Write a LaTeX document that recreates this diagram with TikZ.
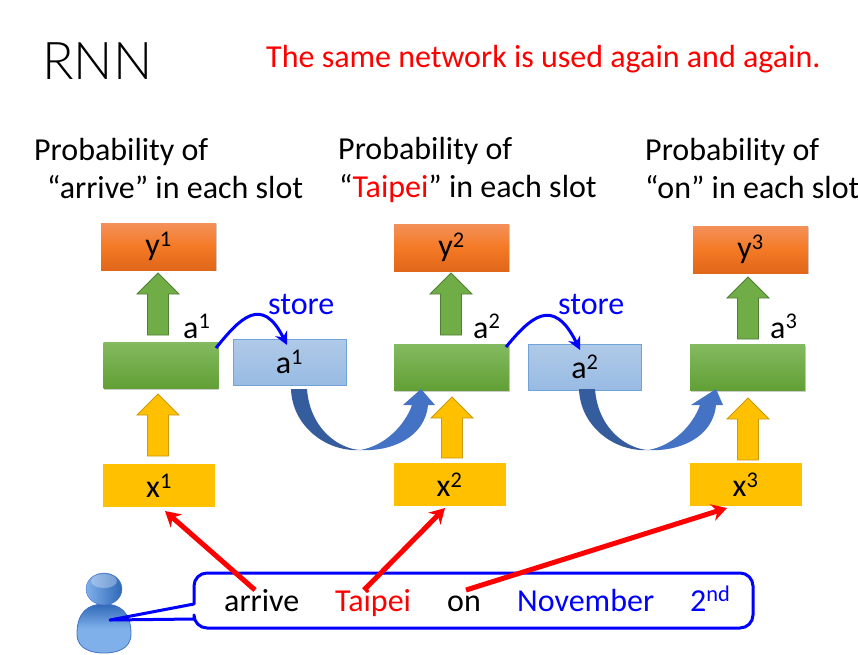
\documentclass[tikz,border=0pt]{standalone}
\usepackage{fontspec}
\setmainfont{Carlito}
\newfontfamily\lightfont{Lato Light}
\usetikzlibrary{shadows,arrows.meta}
\definecolor{orangeT}{HTML}{F4905A}\definecolor{orangeM}{HTML}{F47A25}\definecolor{orangeB}{HTML}{E0661A}
\definecolor{greenT}{HTML}{84BA60}\definecolor{greenB}{HTML}{62A035}\definecolor{greenA}{HTML}{70AD47}\definecolor{greenE}{HTML}{507E32}
\definecolor{yel}{HTML}{FFC000}\definecolor{yelE}{HTML}{C99A10}
\definecolor{blueT}{HTML}{B0CAE8}\definecolor{blueB}{HTML}{98BBE3}\definecolor{blueE}{HTML}{70A3D8}
\definecolor{pure}{HTML}{0000FF}\definecolor{darkC}{HTML}{355C9C}\definecolor{lightC}{HTML}{4472C4}
\definecolor{userL}{HTML}{7FB0EA}\definecolor{userD}{HTML}{2F68B8}
\newcommand{\sz}{\fontsize{32}{36}\selectfont}
\tikzset{
  x=1pt,y=-1pt,
  boxbase/.style={minimum width=#1,inner sep=0,font=\sz},
  outbox/.style={boxbase=115pt,minimum height=47pt,top color=orangeT,bottom color=orangeB,middle color=orangeM,drop shadow={shadow xshift=0.5pt,shadow yshift=-1pt,opacity=.35}},
  hidbox/.style={boxbase=115pt,minimum height=46pt,top color=greenT,bottom color=greenB,drop shadow={shadow xshift=0.5pt,shadow yshift=-1.5pt,opacity=.4}},
  inbox/.style={boxbase=112pt,minimum height=43pt,fill=yel},
  storebox/.style={boxbase=113pt,minimum height=46pt,top color=blueT,bottom color=blueB,draw=blueE,line width=1pt},
  txt/.style={anchor=base west,inner sep=0,font=\sz},
  greenarrow/.style={fill=greenA,draw=greenE,line width=.8pt},
  yelarrow/.style={fill=yel,draw=yelE,line width=.8pt},
  storeline/.style={draw=pure,line width=3pt,-{Stealth[length=13pt,width=13pt]}},
  redline/.style={draw=red,line width=5pt,-{Stealth[length=15pt,width=17pt]}},
}
\newcommand{\uparrowshape}[4]{\path[#4] (#1,#2) -- ++(21,21) -- ++(-10.5,0) -- (#1+10.5,#3) -- (#1-10.5,#3) -- (#1-10.5,#2+21) -- ++(-10.5,0) -- cycle;}
\newcommand{\curved}[2]{%
  \begin{scope}[xshift=#1]
  \fill[darkC] (291,389) .. controls (292,425) and (325,452) .. (360,450)
     .. controls (340,449) and (310,430) .. (307,389) -- cycle;
  \fill[lightC] (360,450) .. controls (390,452) and (425,438) .. (428,405)
     -- (435,405) -- (#2,389) -- (403,405) -- (412,405)
     .. controls (405,425) and (385,446) .. (360,450) -- cycle;
  \end{scope}}
\begin{document}
\begin{tikzpicture}
\useasboundingbox (0,0) rectangle (858,654);
\node[txt,font=\fontsize{52}{56}\selectfont\lightfont] (title) at (42,79) {RNN};
\node[txt,text=red] (motto) at (266,67) {The same network is used again and again.};
\node[txt] (p1a) at (34,160) {Probability of};
\node[txt] (p1b) at (47,198) {“arrive” in each slot};
\node[txt] (p2a) at (338,159) {Probability of};
\node[txt] (p2b) at (339,197) {“\textcolor{red}{Taipei}” in each slot};
\node[txt] (p3a) at (645,160) {Probability of};
\node[txt] (p3b) at (645,198) {“on” in each slot};
\uparrowshape{158}{273}{335}{greenarrow}
\uparrowshape{451}{273}{335}{greenarrow}
\uparrowshape{748}{277}{339}{greenarrow}
\uparrowshape{158}{394}{456}{yelarrow}
\uparrowshape{452}{397}{458}{yelarrow}
\uparrowshape{748}{398}{460}{yelarrow}
\node[outbox] (y1) at (158.5,246.5) {y\textsuperscript{1}};
\node[outbox] (y2) at (451.5,247.5) {y\textsuperscript{2}};
\node[outbox] (y3) at (750.5,249.5) {y\textsuperscript{3}};
\node[hidbox] (h1) at (161,365) {};
\node[hidbox] (h2) at (451.5,367) {};
\node[hidbox] (h3) at (747.5,367) {};
\node[storebox] (s1) at (289.5,362) {a\textsuperscript{1}};
\node[storebox] (s2) at (585,367) {a\textsuperscript{2}};
\node[inbox] (x1) at (159,485.5) {x\textsuperscript{1}};
\node[inbox] (x2) at (449.5,484.5) {x\textsuperscript{2}};
\node[inbox] (x3) at (745.5,484.5) {x\textsuperscript{3}};
\node[txt] (l1) at (183,338) {a\textsuperscript{1}};
\node[txt] (l2) at (473,338) {a\textsuperscript{2}};
\node[txt] (l3) at (770,338) {a\textsuperscript{3}};
\node[txt,text=pure] (st1) at (268,314) {store};
\node[txt,text=pure] (st2) at (558,314) {store};
\coordinate (c1) at (216,348); \coordinate (d1) at (287,345);
\coordinate (c2) at (506,347); \coordinate (d2) at (580,350);
\draw[storeline] (c1) .. controls (240,318) and (262,295) .. (d1);
\draw[storeline] (c2) .. controls (530,318) and (553,295) .. (d2);
\curved{0pt}{421}
\curved{288pt}{428}
% speaker
\path[draw=lightC,line width=.8pt,top color=userD,bottom color=userL,middle color=userL]
  (77,634) .. controls (77,612) and (88,604) .. (104,604) .. controls (120,604) and (131,612) .. (131,634)
  .. controls (131,650) and (115,653) .. (104,653) .. controls (93,653) and (77,650) .. (77,634) -- cycle;
\shade[left color=userL,right color=userD,draw=lightC] (104,589) ellipse (18 and 16);
\fill[white,opacity=.3] (104,581) ellipse (13 and 7);
\coordinate (tip) at (110,620);
% callout
\draw[pure,line width=3pt,line join=round,fill=white,fill opacity=0]
  (194,604) [rounded corners=13pt] -- (194,573) -- (753,573) -- (753,628) -- (194,628)
  [sharp corners] -- (194,619) -- (tip) -- cycle;
\node[txt] (w1) at (224,611) {arrive};
\node[txt,text=red] (w2) at (335,611) {Taipei};
\node[txt] (w3) at (447,611) {on};
\node[txt,text=pure] (w4) at (517,611) {November};
\node[txt,text=pure] (w5) at (690,611) {2\textsuperscript{nd}};
\coordinate (r1) at (255,590); \coordinate (r2) at (364,590); \coordinate (r3) at (466,590);
\coordinate (e1) at (165,511); \coordinate (e2) at (445,508); \coordinate (e3) at (727,508);
\draw[redline] (r1) -- (e1);
\draw[redline] (r2) -- (e2);
\draw[redline] (r3) -- (e3);
\end{tikzpicture}
\end{document}
